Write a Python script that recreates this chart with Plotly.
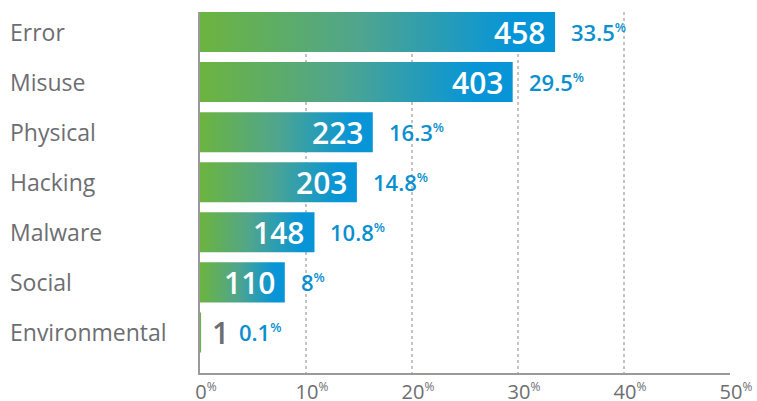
import plotly.graph_objects as go

categories = ["Error", "Misuse", "Physical", "Hacking", "Malware", "Social", "Environmental"]
counts = [458, 403, 223, 203, 148, 110, 1]
percents = [33.5, 29.5, 16.3, 14.8, 10.8, 8, 0.1]
pct_labels = ["33.5", "29.5", "16.3", "14.8", "10.8", "8", "0.1"]
tick_vals = [0, 10, 20, 30, 40, 50]
tick_labels = ["0", "10", "20", "30", "40", "50"]

FONT = "Open Sans"
GRAY = "#6d6e71"
BLUE = "#0a8fd0"
scale = [[0, "#6cb43f"], [0.45, "#4fa58e"], [0.88, "#0795d8"], [1, "#0795d8"]]
HALF = 0.4
PCT_SUP = "<sup><span style='font-size:13px'>%</span></sup>"
TICK_SUP = "<sup><span style='font-size:12px'>%</span></sup>"

fig = go.Figure()
annotations = []
for i, (cat, c, p, pl) in enumerate(zip(categories, counts, percents, pct_labels)):
    fig.add_trace(go.Scatter(
        x=[0, p, p, 0, 0],
        y=[i - HALF, i - HALF, i + HALF, i + HALF, i - HALF],
        mode="lines", line=dict(width=0), fill="toself",
        fillgradient=dict(type="horizontal", colorscale=scale, start=0, stop=max(p, 8)),
        hoverinfo="skip", showlegend=False,
    ))
    annotations.append(dict(
        x=-0.3623, xref="paper", y=i, yref="y", text=cat, showarrow=False,
        xanchor="left", yanchor="middle",
        font=dict(family=FONT, size=23, color=GRAY),
    ))
    inside = p > 3
    annotations.append(dict(
        x=p, xref="x", y=i, yref="y", text=str(c), showarrow=False,
        xanchor="right" if inside else "left", yanchor="middle",
        xshift=-8 if inside else 9,
        font=dict(family=FONT, size=30, color="white" if inside else GRAY, weight=600),
    ))
    annotations.append(dict(
        x=p, xref="x", y=i, yref="y", text=pl + PCT_SUP, showarrow=False,
        xanchor="left", yanchor="middle", xshift=14 if inside else 36,
        font=dict(family=FONT, size=22, color=BLUE, weight=600),
    ))

fig.update_layout(
    width=757, height=401,
    margin=dict(l=200, r=27, t=12, b=28, autoexpand=False),
    plot_bgcolor="white", paper_bgcolor="white",
    annotations=annotations,
    xaxis=dict(
        range=[0, 50], tickvals=tick_vals,
        ticktext=[t + TICK_SUP for t in tick_labels],
        showgrid=True, gridcolor="#c4c4c4", griddash="dot", gridwidth=1.5,
        zeroline=False, showline=True, linecolor="#9a9a9a", linewidth=2,
        tickfont=dict(family=FONT, size=20, color=GRAY),
        ticklabelshift=6, ticklabelstandoff=0, automargin=False,
        fixedrange=True,
    ),
    yaxis=dict(
        range=[6.81, -0.4], showgrid=False, zeroline=False, showticklabels=False,
        showline=True, linecolor="#9a9a9a", linewidth=2, fixedrange=True,
        automargin=False,
    ),
)

fig.write_html(
    "out.html",
    config={"displayModeBar": False},
    post_script="document.body.style.margin='0';document.body.style.overflow='hidden';",
)
